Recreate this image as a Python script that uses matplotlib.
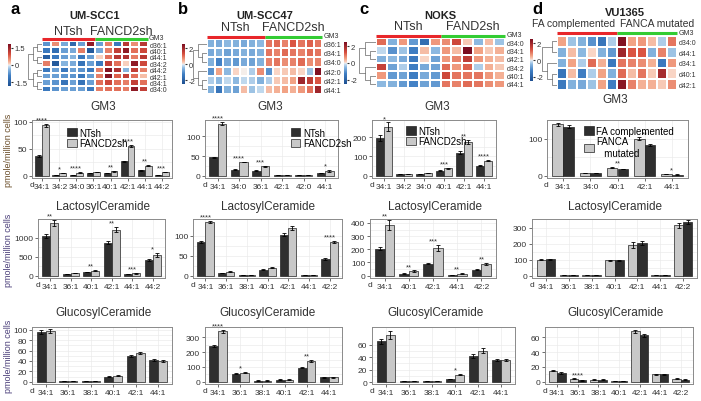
import numpy as np
import matplotlib
matplotlib.use("Agg")
import matplotlib.pyplot as plt
from matplotlib.colors import LinearSegmentedColormap

plt.rcParams['font.family'] = ['Liberation Sans', 'DejaVu Sans']

# ---------- heatmap data (z-scores) ----------
hm_a_rows = ["d36:1", "d40:1", "d44:1", "d34:2", "d44:2", "d42:1", "d34:1", "d34:0"]
hm_a = [
    [-0.7, 0.5, -0.5, -1.3, -0.6, 1.6, -0.6, 0.6, -1.0, 1.2, 0.5, 1.2],
    [-1.0, -1.2, -0.6, -0.5, 0.6, -1.6, -0.5, 0.6, 1.1, 1.6, 0.7, 1.0],
    [-1.5, -1.0, -0.6, -0.4, -1.0, -0.6, 0.1, 0.7, 1.2, 1.3, 0.6, 1.2],
    [0.6, -1.6, -0.4, -0.5, -1.1, -0.6, -1.0, 1.1, 0.7, 0.1, 1.6, 1.0],
    [-1.0, -0.6, -1.0, -0.6, -0.7, -1.0, 0.6, 1.7, 1.3, -0.4, 1.1, 0.6],
    [-0.6, -0.6, -0.7, -0.7, -1.0, -0.6, 0.6, 1.7, 0.8, 1.1, 0.7, 0.2],
    [-0.6, -0.7, -1.1, -0.6, -1.1, -0.6, 0.7, 1.0, 0.7, 0.6, 1.1, 0.7],
    [-1.0, -0.7, -0.6, -0.6, -0.6, -1.0, 0.6, 0.7, 0.7, 0.6, 1.6, 1.1],
]
hm_b_rows = ["d36:1", "d34:1", "d34:0", "d42:0", "d42:1", "d44:1"]
hm_b = [
    [-0.6, -0.7, -0.5, -0.6, -0.7, -0.6, -0.5, 0.9, 1.0, 0.8, 1.2, 0.9, 1.1, 0.9],
    [-0.7, -0.6, -0.8, -0.7, -0.6, -0.7, -0.6, 0.9, 0.8, 1.0, 0.9, 0.8, 1.0, 0.9],
    [-0.6, -1.2, -0.7, -0.9, -0.7, -0.8, -0.6, 0.8, 0.9, 0.7, 0.8, 1.0, 0.7, 0.8],
    [-1.0, 0.5, -0.5, 0.1, 0.0, -0.3, 0.7, -1.0, 0.1, 0.2, 0.3, 0.1, -0.4, 2.4],
    [-0.3, -0.5, -0.2, -0.5, -0.2, -0.3, -0.6, -0.3, 0.2, 0.3, 0.5, 2.0, 1.6, 1.2],
    [-0.6, -1.5, -0.6, -0.8, 0.3, -0.4, -0.2, 0.3, 0.4, 0.5, 0.4, 0.6, 0.9, 2.0],
]
hm_c_rows = ["d34:0", "d34:1", "d42:1", "d34:2", "d40:1", "d44:1"]
hm_c = [
    [1.0, -0.6, 0.6, -0.9, -1.7, 0.6, 0.7, 1.4, 0.2, -0.5, 0.3, -0.4],
    [-0.2, -1.0, -0.4, -1.3, 0.3, -0.5, 0.6, 0.3, 2.5, 0.5, 0.2, 0.4],
    [-0.6, -0.5, -0.7, -1.4, 0.1, -0.8, 0.6, 0.8, 1.6, 0.6, 0.4, 0.3],
    [1.5, -0.8, -0.3, -1.3, -0.7, -0.8, 1.0, 0.6, 1.1, -0.3, 0.4, 0.2],
    [0.6, -0.9, -0.8, -1.3, -0.7, -0.9, 1.4, 0.9, 0.9, 0.9, 0.6, 0.4],
    [-0.5, -0.6, -0.9, -1.2, -0.8, -0.9, 0.9, 0.8, 1.0, 0.9, 0.7, 0.6],
]
hm_d_rows = ["d34:0", "d44:1", "d34:1", "d40:1", "d42:1"]
hm_d = [
    [0.5, -0.4, -0.6, -1.0, -1.5, -0.3, 2.4, 0.5, 0.6, 0.3, -0.3, 0.9],
    [-0.6, 0.3, -0.5, 0.1, -0.6, -0.9, 2.0, 1.2, 1.2, -0.6, 0.8, -0.4],
    [-0.6, 0.5, -0.3, 1.0, 0.4, -1.4, 0.9, 0.8, 0.7, 0.4, -1.4, 0.6],
    [-1.5, 0.3, -1.3, -0.3, 0.5, -0.6, 1.0, 0.3, 0.9, 0.2, 1.9, 0.1],
    [-1.4, -0.6, -0.7, -0.4, 0.5, -1.3, 2.3, 0.8, 0.4, 0.4, 0.2, 0.7],
]

# ---------- bar data (pmole/million cells) ----------
# GM3
gm3_a_cats = ["34:1", "34:2", "34:0", "36:1", "40:1", "42:1", "44:1", "44:2"]
gm3_a_nt = [36, 2, 2, 5, 5, 27, 10, 2]
gm3_a_nt_err = [2, 0.3, 0.3, 0.5, 0.5, 1, 1, 0.3]
gm3_a_fa = [93, 5, 6, 7, 8, 55, 19, 7]
gm3_a_fa_err = [3, 0.4, 0.5, 0.5, 0.5, 2.5, 1.5, 0.5]
gm3_a_sig = ["****", "*", "****", "", "**", "****", "**", "***"]

gm3_b_cats = ["34:1", "34:0", "36:1", "42:1", "42:0", "44:1"]
gm3_b_nt = [47, 15, 13, 2, 2, 6]
gm3_b_nt_err = [1.5, 1, 1, 0.2, 0.2, 0.5]
gm3_b_fa = [133, 35, 24, 2, 2, 12]
gm3_b_fa_err = [3, 1, 1, 0.2, 0.2, 1.5]
gm3_b_sig = ["****", "****", "***", "", "", "*"]

gm3_c_cats = ["34:1", "34:2", "34:0", "40:1", "42:1", "44:1"]
gm3_c_nt = [195, 8, 10, 27, 120, 52]
gm3_c_nt_err = [15, 1, 1, 3, 8, 3]
gm3_c_fa = [255, 10, 13, 38, 175, 78]
gm3_c_fa_err = [22, 1, 1, 2, 12, 3]
gm3_c_sig = ["*", "", "", "***", "**", "****"]

gm3_d_cats = ["34:1", "34:0", "40:1", "42:1", "44:1"]
gm3_d_mut = [138, 8, 22, 100, 4]
gm3_d_mut_err = [4, 0.5, 1, 3, 0.5]
gm3_d_comp = [132, 7, 18, 83, 3]
gm3_d_comp_err = [4, 0.5, 1, 3, 0.5]
gm3_d_sig = ["", "", "**", "**", "*"]

# LactosylCeramide
lac_a_cats = ["34:1", "36:1", "40:1", "42:1", "44:1", "44:2"]
lac_a_nt = [1050, 50, 100, 870, 40, 410]
lac_a_nt_err = [50, 5, 8, 40, 4, 30]
lac_a_fa = [1400, 70, 130, 1220, 60, 540]
lac_a_fa_err = [80, 6, 10, 60, 6, 50]
lac_a_sig = ["**", "", "**", "**", "***", "*"]

lac_b_cats = ["34:1", "36:1", "38:1", "40:1", "42:1", "44:1", "42:2"]
lac_b_nt = [85, 6, 1, 15, 103, 2, 42]
lac_b_nt_err = [2, 0.5, 0.2, 1, 3, 0.2, 2]
lac_b_fa = [135, 10, 1, 20, 120, 2, 84]
lac_b_fa_err = [3, 0.5, 0.2, 1.5, 5, 0.2, 2]
lac_b_sig = ["****", "", "", "", "", "", "****"]

lac_c_cats = ["34:1", "40:1", "42:1", "44:1", "42:2"]
lac_c_nt = [205, 15, 90, 5, 45]
lac_c_nt_err = [12, 2, 5, 1, 3]
lac_c_fa = [385, 35, 210, 15, 88]
lac_c_fa_err = [40, 4, 25, 2, 10]
lac_c_sig = ["**", "**", "***", "**", "**"]

lac_d_cats = ["34:1", "36:1", "38:1", "40:1", "42:1", "44:1", "42:2"]
lac_d_mut = [100, 2, 2, 95, 190, 2, 315]
lac_d_mut_err = [3, 0.2, 0.2, 5, 18, 0.2, 15]
lac_d_comp = [102, 2, 2, 97, 205, 2, 335]
lac_d_comp_err = [3, 0.2, 0.2, 4, 15, 0.2, 12]
lac_d_sig = ["", "", "", "", "", "", ""]

# GlucosylCeramide
glc_a_cats = ["34:1", "36:1", "38:1", "40:1", "42:1", "44:1"]
glc_a_nt = [95, 2, 2, 10, 50, 42]
glc_a_nt_err = [4, 0.2, 0.2, 1, 2, 1.5]
glc_a_fa = [97, 2, 2, 12, 55, 40]
glc_a_fa_err = [4, 0.2, 0.2, 1, 2, 1.5]
glc_a_sig = ["", "", "", "", "", ""]

glc_b_cats = ["34:1", "36:1", "38:1", "40:1", "42:1", "44:1"]
glc_b_nt = [240, 55, 8, 15, 95, 30]
glc_b_nt_err = [6, 3, 1, 1, 4, 2]
glc_b_fa = [340, 62, 8, 15, 140, 30]
glc_b_fa_err = [8, 4, 1, 1, 6, 2]
glc_b_sig = ["****", "*", "", "", "**", ""]

glc_c_cats = ["34:1", "36:1", "38:1", "40:1", "42:1", "44:1"]
glc_c_nt = [65, 2, 2, 5, 42, 35]
glc_c_nt_err = [4, 0.2, 0.2, 0.5, 3, 2]
glc_c_fa = [75, 2, 2, 12, 50, 35]
glc_c_fa_err = [6, 0.2, 0.2, 1, 4, 2]
glc_c_sig = ["", "", "", "*", "", ""]

glc_d_cats = ["34:1", "36:1", "38:1", "40:1", "42:1", "44:1", "42:2"]
glc_d_mut = [15, 4, 3, 1, 68, 10, 4]
glc_d_mut_err = [1, 0.5, 0.3, 0.2, 2, 0.5, 0.5]
glc_d_comp = [12, 2, 3, 1, 63, 10, 3]
glc_d_comp_err = [1, 0.3, 0.3, 0.2, 2, 0.5, 0.5]
glc_d_sig = ["", "****", "", "", "", "", ""]

DARK = "#2f2f2f"
LIGHT = "#c8c8c8"
W, H = 701, 402
CMAP = LinearSegmentedColormap.from_list("hm", [
    (0.0, "#1d4f91"), (0.25, "#3f7fc4"), (0.4, "#8cb8e0"), (0.48, "#d2e3f2"),
    (0.5, "#f4f1ee"), (0.52, "#f9d6c6"), (0.6, "#f2a385"), (0.75, "#d8503f"),
    (1.0, "#7a0c1f")])

fig = plt.figure(figsize=(7.01, 4.02), dpi=100)


def box(x0, y0, x1, y1):
    return [x0 / W, 1 - y1 / H, (x1 - x0) / W, (y1 - y0) / H]


def tree(ax, lo, hi):
    # simple nested dendrogram, leaves on the heatmap side
    if hi - lo == 1:
        return lo + 0.5, 0
    mid = (lo + hi) // 2
    y1, h1 = tree(ax, lo, mid)
    y2, h2 = tree(ax, mid, hi)
    h = max(h1, h2) + 1
    ax.plot([h1, h, h, h2], [y1, y1, y2, y2], color="#666666", lw=0.5)
    return (y1 + y2) / 2, h


def heat(hm, cb, dg, data, rows, n1, vmax, cticks, labels, glabels, gsize=9,
         gx=None):
    data = np.array(data)
    nr, nc = data.shape
    ax = fig.add_axes(box(*hm))
    m = ax.pcolormesh(data, cmap=CMAP, vmin=-vmax, vmax=vmax,
                      edgecolors="white", linewidth=0.3)
    ax.set_xlim(0, nc)
    ax.set_ylim(nr, 0)
    ax.set_xticks([])
    ax.yaxis.tick_right()
    ax.set_yticks(np.arange(nr) + 0.5)
    ax.set_yticklabels(rows, fontsize=5, color="#333333")
    ax.tick_params(axis="y", length=0, pad=1.5)
    for s in ax.spines.values():
        s.set_visible(False)
    ax.text(1.01, 1.0, "GM3", transform=ax.transAxes, fontsize=5,
            color="#333333", va="bottom", ha="left")
    # group bars
    ax.plot([0, n1], [-0.25, -0.25], color="#e8262a", lw=2.2, clip_on=False,
            solid_capstyle="butt")
    ax.plot([n1, nc], [-0.25, -0.25], color="#33cc33", lw=2.2, clip_on=False,
            solid_capstyle="butt")
    if gx is None:
        gx = [n1 / 2, (n1 + nc) / 2]
    ax.text(gx[0], -0.7, glabels[0], fontsize=gsize, ha="center", va="bottom",
            color="#333333")
    ax.text(gx[1], -0.7, glabels[1], fontsize=gsize, ha="center",
            va="bottom", color="#333333")
    # colorbar
    cax = fig.add_axes(box(*cb))
    c = fig.colorbar(m, cax=cax)
    c.outline.set_visible(False)
    c.set_ticks(cticks)
    c.set_ticklabels(labels)
    cax.tick_params(labelsize=5.5, length=1.5, pad=1, colors="#333333")
    # dendrogram
    dax = fig.add_axes(box(*dg))
    _, hmax = tree(dax, 0, nr)
    dax.set_xlim(hmax + 0.2, 0)
    dax.set_ylim(nr, 0)
    dax.axis("off")


def bars(rect, cats, v1, e1, v2, e2, sig, ylim, yticks, c1=DARK, c2=LIGHT,
         legend=None, lpos=(0.3, 1.0), lorder=(0, 1)):
    ax = fig.add_axes(box(*rect))
    x = np.arange(len(cats))
    w = 0.4
    b1 = ax.bar(x - w / 2, v1, w, yerr=e1, color=c1, edgecolor="#222222",
                lw=0.5, error_kw=dict(lw=0.6, capsize=1.5, capthick=0.6),
                zorder=3)
    b2 = ax.bar(x + w / 2, v2, w, yerr=e2, color=c2, edgecolor="#222222",
                lw=0.5, error_kw=dict(lw=0.6, capsize=1.5, capthick=0.6),
                zorder=3)
    top = np.maximum(np.array(v1) + np.array(e1), np.array(v2) + np.array(e2))
    for i, s in enumerate(sig):
        if s:
            ax.text(x[i], top[i] + 0.01 * ylim[1], s, fontsize=5.5,
                    ha="center", va="bottom", color="#333333", zorder=4,
                    clip_on=False)
    ax.set_xlim(-0.6, len(cats) - 0.4)
    ax.set_ylim(*ylim)
    ax.set_yticks(yticks)
    ax.set_xticks(x)
    ax.set_xticklabels(cats)
    ax.tick_params(labelsize=6, length=2, width=0.5, pad=1.5,
                   colors="#333333")
    ax.text(-0.62, -0.045 * (ylim[1] - ylim[0]) + ylim[0], "d", fontsize=6,
            ha="center", va="top", color="#333333")
    ax.set_yticks(np.array(yticks[:-1]) + (yticks[1] - yticks[0]) / 2,
                  minor=True)
    ax.tick_params(which="minor", length=0)
    ax.grid(True, which="both", color="#ebebeb", lw=0.5, zorder=0)
    ax.set_axisbelow(True)
    for s in ax.spines.values():
        s.set_color("#8a8a8a")
        s.set_linewidth(0.7)
    if legend is not None:
        hs = [b1, b2]
        ax.legend([hs[i] for i in lorder], [legend[i] for i in lorder],
                  loc="upper left", bbox_to_anchor=lpos, fontsize=7,
                  frameon=False, handlelength=1.0, handleheight=0.9,
                  handletextpad=0.25, labelspacing=0.05, borderpad=0.1)
    return ax


# ---------- heatmaps ----------
heat((42, 42, 148, 93), (8, 45, 11, 87), (27, 42, 42, 93), hm_a, hm_a_rows, 6,
     1.8, [-1.5, 0, 1.5], ["-1.5", "0", "1.5"], ["NTsh", "FANCD2sh"])
heat((207, 40, 322, 95), (182, 45, 185, 85), (192, 40, 207, 95), hm_b,
     hm_b_rows, 7, 2.5, [-2, 0, 2], ["-2", "0", "2"], ["NTsh", "FANCD2sh"])
heat((376, 39, 505, 89), (344, 43, 347, 85), (358, 39, 376, 89), hm_c,
     hm_c_rows, 6, 2.5, [-2, 0, 2], ["-2", "0", "2"], ["NTsh", "FAND2sh"])
heat((557, 37, 677, 91), (530, 40, 533, 82), (541, 37, 557, 91), hm_d,
     hm_d_rows, 6, 2.5, [-2, 0, 2], ["-2", "0", "2"],
     ["FA complemented", "FANCA mutated"], gsize=7.5, gx=[1.7, 10.0])

# ---------- bar charts ----------
bars((32, 121, 172, 179), gm3_a_cats, gm3_a_nt, gm3_a_nt_err, gm3_a_fa,
     gm3_a_fa_err, gm3_a_sig, (-4, 103), [0, 50, 100],
     legend=["NTsh", "FANCD2sh"], lpos=(0.21, 0.97))
bars((205, 121, 338, 179), gm3_b_cats, gm3_b_nt, gm3_b_nt_err, gm3_b_fa,
     gm3_b_fa_err, gm3_b_sig, (-6, 142), [0, 50, 100],
     legend=["NTsh", "FANCD2sh"], lpos=(0.6, 0.97))
bars((372, 121, 496, 179), gm3_c_cats, gm3_c_nt, gm3_c_nt_err, gm3_c_fa,
     gm3_c_fa_err, gm3_c_sig, (-12, 290), [0, 100, 200],
     legend=["NTsh", "FANCD2sh"], lpos=(0.23, 1.0))
bars((547, 121, 688, 179), gm3_d_cats, gm3_d_mut, gm3_d_mut_err, gm3_d_comp,
     gm3_d_comp_err, gm3_d_sig, (-6, 150), [0, 100], c1=LIGHT, c2=DARK,
     legend=["FANCA\n   mutated", "FA complemented"], lpos=(0.22, 1.0),
     lorder=(1, 0))

bars((38, 220, 165, 279), lac_a_cats, lac_a_nt, lac_a_nt_err, lac_a_fa,
     lac_a_fa_err, lac_a_sig, (-60, 1500), [0, 500, 1000])
bars((193, 220, 342, 279), lac_b_cats, lac_b_nt, lac_b_nt_err, lac_b_fa,
     lac_b_fa_err, lac_b_sig, (-6, 142), [0, 50, 100])
bars((370, 220, 496, 279), lac_c_cats, lac_c_nt, lac_c_nt_err, lac_c_fa,
     lac_c_fa_err, lac_c_sig, (-18, 430), [0, 100, 200, 300, 400])
bars((532, 220, 697, 279), lac_d_cats, lac_d_mut, lac_d_mut_err, lac_d_comp,
     lac_d_comp_err, lac_d_sig, (-15, 355), [0, 100, 200, 300],
     c1=LIGHT, c2=DARK)

bars((32, 328, 172, 385), glc_a_cats, glc_a_nt, glc_a_nt_err, glc_a_fa,
     glc_a_fa_err, glc_a_sig, (-4, 105), [0, 20, 40, 60, 80, 100])
bars((205, 328, 342, 385), glc_b_cats, glc_b_nt, glc_b_nt_err, glc_b_fa,
     glc_b_fa_err, glc_b_sig, (-15, 370), [0, 100, 200, 300])
bars((372, 328, 515, 385), glc_c_cats, glc_c_nt, glc_c_nt_err, glc_c_fa,
     glc_c_fa_err, glc_c_sig, (-3, 88), [0, 20, 40, 60])
bars((545, 328, 693, 385), glc_d_cats, glc_d_mut, glc_d_mut_err, glc_d_comp,
     glc_d_comp_err, glc_d_sig, (-3, 74), [0, 20, 40, 60], c1=LIGHT, c2=DARK)

# ---------- texts ----------
def ftext(x, y, s, **kw):
    fig.text(x / W, 1 - y / H, s, **kw)


for x, s in [(15, "a"), (183, "b"), (364, "c"), (537, "d")]:
    ftext(x, 10, s, fontsize=12, fontweight="bold", ha="center", va="center")
for x, y, s in [(95, 16, "UM-SCC1"), (265, 16, "UM-SCC47"), (440, 16, "NOKS"),
                (625, 13, "VU1365")]:
    ftext(x, y, s, fontsize=8, fontweight="bold", ha="center", va="center",
          color="#222222")
for x in [103, 270, 437]:
    ftext(x, 107, "GM3", fontsize=8.5, ha="center", va="center",
          color="#333333")
ftext(615, 100, "GM3", fontsize=8.5, ha="center", va="center", color="#333333")
for x in [103, 268, 435, 615]:
    ftext(x, 207, "LactosylCeramide", fontsize=8.5, ha="center", va="center",
          color="#333333")
    ftext(x, 313, "GlucosylCeramide", fontsize=8.5, ha="center", va="center",
          color="#333333")
for y, col in [(150, "#6b4e2a"), (250, "#4b3f7a"), (356, "#4b3f7a")]:
    ftext(9, y, "pmole/million cells", fontsize=6.5, rotation=90,
          ha="center", va="center", color=col)

fig.savefig("out.png", dpi=100)
